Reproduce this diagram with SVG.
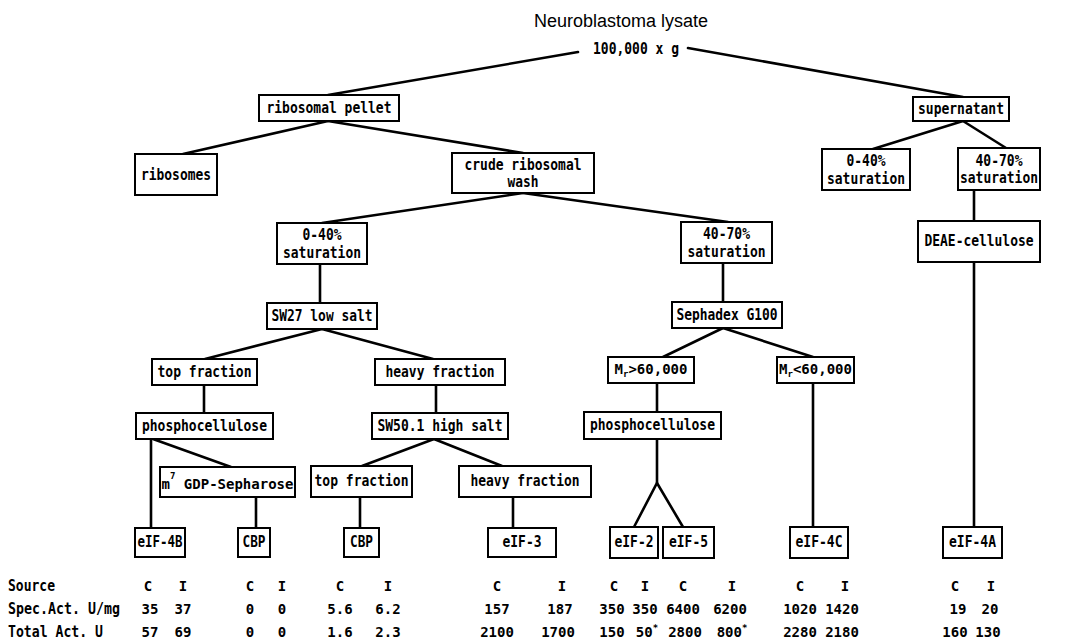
<svg xmlns="http://www.w3.org/2000/svg" width="1076" height="644" viewBox="0 0 1076 644">
<style>
.bg{fill:#fff}
.box rect{fill:#fff;stroke:#000;stroke-width:2}
.box text,.tbl text,.cfg{font-family:"DejaVu Sans Mono","Liberation Mono",monospace;font-weight:bold;font-size:15px;fill:#000}
.box text,.cfg{text-anchor:middle;dominant-baseline:central}
.box text.s{font-size:14px}
.tbl .n text{text-anchor:middle;font-size:14px}
.conn line,.conn polyline{stroke:#000;stroke-width:2.6;fill:none;stroke-linecap:round}
.title{font-family:"Liberation Sans",Arial,sans-serif;font-size:18px;fill:#000;text-anchor:middle}
.sup{font-size:9px}
</style>
<rect class="bg" x="0" y="0" width="1076" height="644"/>
<g id="connectors" class="conn">
<line x1="578" y1="52" x2="328" y2="95"/>
<line x1="688" y1="48" x2="963" y2="97"/>
<line x1="328" y1="121" x2="183" y2="154"/>
<line x1="328" y1="121" x2="523" y2="153"/>
<line x1="523" y1="193" x2="322" y2="223"/>
<line x1="523" y1="193" x2="728" y2="222"/>
<line x1="963" y1="121" x2="873" y2="149"/>
<line x1="963" y1="121" x2="1006" y2="148"/>
<line x1="974" y1="190" x2="974" y2="221"/>
<line x1="974" y1="262" x2="974" y2="527"/>
<line x1="320" y1="264" x2="320" y2="303"/>
<line x1="322" y1="329" x2="205" y2="359"/>
<line x1="322" y1="329" x2="433" y2="359"/>
<line x1="204" y1="385" x2="204" y2="413"/>
<line x1="436" y1="385" x2="436" y2="413"/>
<line x1="151" y1="439" x2="151" y2="528"/>
<line x1="153" y1="439" x2="231" y2="467"/>
<line x1="256" y1="497" x2="256" y2="528"/>
<line x1="434" y1="439" x2="362" y2="466"/>
<line x1="434" y1="439" x2="502" y2="466"/>
<line x1="360" y1="497" x2="360" y2="528"/>
<line x1="513" y1="497" x2="513" y2="528"/>
<line x1="723" y1="263" x2="723" y2="302"/>
<line x1="723" y1="328" x2="663" y2="357"/>
<line x1="723" y1="328" x2="813" y2="357"/>
<line x1="657" y1="383" x2="657" y2="412"/>
<line x1="657" y1="439" x2="657" y2="483"/>
<polyline points="634,527 657,483 683,527"/>
<line x1="813" y1="383" x2="813" y2="527"/>
</g>
<g id="lysate">
<text class="title" x="621" y="27">Neuroblastoma lysate</text>
<text class="cfg" x="636" y="49" textLength="86" lengthAdjust="spacingAndGlyphs">100,000 x g</text>
</g>
<g id="ribosomal-pellet" class="box"><rect x="259" y="95" width="140" height="26"/><text x="329" y="108" textLength="125" lengthAdjust="spacingAndGlyphs">ribosomal pellet</text></g>
<g id="ribosomes" class="box"><rect x="135" y="154" width="82" height="41"/><text x="176" y="175" textLength="70" lengthAdjust="spacingAndGlyphs">ribosomes</text></g>
<g id="crude-wash" class="box"><rect x="452" y="153" width="142" height="40"/><text x="523" y="164.5" textLength="117" lengthAdjust="spacingAndGlyphs">crude ribosomal</text><text x="523" y="182" textLength="31" lengthAdjust="spacingAndGlyphs">wash</text></g>
<g id="supernatant" class="box"><rect x="913" y="97" width="96" height="24"/><text x="961" y="109" textLength="86" lengthAdjust="spacingAndGlyphs">supernatant</text></g>
<g id="sup-0-40" class="box"><rect x="822" y="149" width="88" height="41"/><text x="866" y="161" textLength="39" lengthAdjust="spacingAndGlyphs">0-40%</text><text x="866" y="178.5" textLength="78" lengthAdjust="spacingAndGlyphs">saturation</text></g>
<g id="sup-40-70" class="box"><rect x="958" y="148" width="82" height="42"/><text x="999" y="160.5" textLength="47" lengthAdjust="spacingAndGlyphs">40-70%</text><text x="999" y="178" textLength="78" lengthAdjust="spacingAndGlyphs">saturation</text></g>
<g id="wash-0-40" class="box"><rect x="277" y="223" width="90" height="41"/><text x="322" y="235" textLength="39" lengthAdjust="spacingAndGlyphs">0-40%</text><text x="322" y="252.5" textLength="78" lengthAdjust="spacingAndGlyphs">saturation</text></g>
<g id="sw27" class="box"><rect x="267" y="303" width="110" height="26"/><text x="322" y="316" textLength="101" lengthAdjust="spacingAndGlyphs">SW27 low salt</text></g>
<g id="top-fraction-1" class="box"><rect x="152" y="359" width="105" height="26"/><text x="204.5" y="372" textLength="94" lengthAdjust="spacingAndGlyphs">top fraction</text></g>
<g id="heavy-fraction-1" class="box"><rect x="375" y="359" width="130" height="26"/><text x="440" y="372" textLength="109" lengthAdjust="spacingAndGlyphs">heavy fraction</text></g>
<g id="wash-40-70" class="box"><rect x="681" y="222" width="91" height="41"/><text x="726.5" y="234" textLength="47" lengthAdjust="spacingAndGlyphs">40-70%</text><text x="726.5" y="251.5" textLength="78" lengthAdjust="spacingAndGlyphs">saturation</text></g>
<g id="sephadex" class="box"><rect x="672" y="302" width="110" height="26"/><text x="727" y="315" textLength="101" lengthAdjust="spacingAndGlyphs">Sephadex G100</text></g>
<g id="mr-gt" class="box"><rect x="608" y="357" width="86" height="26"/><text class="s" x="651" y="369">M<tspan class="sup" dy="5">r</tspan><tspan dy="-5">&gt;60,000</tspan></text></g>
<g id="mr-lt" class="box"><rect x="777" y="357" width="77" height="26"/><text class="s" x="815.5" y="369">M<tspan class="sup" dy="5">r</tspan><tspan dy="-5">&lt;60,000</tspan></text></g>
<g id="deae" class="box"><rect x="918" y="221" width="122" height="41"/><text x="979" y="241" textLength="109" lengthAdjust="spacingAndGlyphs">DEAE-cellulose</text></g>
<g id="phospho-1" class="box"><rect x="136" y="413" width="137" height="26"/><text x="204.5" y="426" textLength="125" lengthAdjust="spacingAndGlyphs">phosphocellulose</text></g>
<g id="sw50" class="box"><rect x="372" y="413" width="136" height="26"/><text x="440" y="426" textLength="125" lengthAdjust="spacingAndGlyphs">SW50.1 high salt</text></g>
<g id="m7gdp" class="box"><rect x="160" y="467" width="135" height="30"/><text class="s" x="227.5" y="484">m<tspan class="sup" dy="-8">7</tspan><tspan dy="8"> GDP-Sepharose</tspan></text></g>
<g id="top-fraction-2" class="box"><rect x="311" y="466" width="101" height="31"/><text x="361.5" y="481" textLength="94" lengthAdjust="spacingAndGlyphs">top fraction</text></g>
<g id="heavy-fraction-2" class="box"><rect x="459" y="466" width="132" height="31"/><text x="525" y="481" textLength="109" lengthAdjust="spacingAndGlyphs">heavy fraction</text></g>
<g id="eif4b" class="box"><rect x="135" y="528" width="50" height="29"/><text x="160" y="542" textLength="45" lengthAdjust="spacingAndGlyphs">eIF-4B</text></g>
<g id="cbp-1" class="box"><rect x="238" y="528" width="32" height="29"/><text x="254" y="542" textLength="23" lengthAdjust="spacingAndGlyphs">CBP</text></g>
<g id="cbp-2" class="box"><rect x="344" y="528" width="35" height="29"/><text x="361.5" y="542" textLength="23" lengthAdjust="spacingAndGlyphs">CBP</text></g>
<g id="eif3" class="box"><rect x="488" y="528" width="68" height="29"/><text x="522" y="542" textLength="39" lengthAdjust="spacingAndGlyphs">eIF-3</text></g>
<g id="phospho-2" class="box"><rect x="584" y="412" width="137" height="27"/><text x="652.5" y="425" textLength="125" lengthAdjust="spacingAndGlyphs">phosphocellulose</text></g>
<g id="eif2" class="box"><rect x="610" y="527" width="48" height="31"/><text x="634" y="542" textLength="39" lengthAdjust="spacingAndGlyphs">eIF-2</text></g>
<g id="eif5" class="box"><rect x="663" y="527" width="51" height="31"/><text x="688.5" y="542" textLength="39" lengthAdjust="spacingAndGlyphs">eIF-5</text></g>
<g id="eif4c" class="box"><rect x="790" y="527" width="58" height="31"/><text x="819" y="542" textLength="47" lengthAdjust="spacingAndGlyphs">eIF-4C</text></g>
<g id="eif4a" class="box"><rect x="943" y="527" width="59" height="31"/><text x="972.5" y="542" textLength="47" lengthAdjust="spacingAndGlyphs">eIF-4A</text></g>
<g id="table" class="tbl">
<text x="8" y="591" textLength="47" lengthAdjust="spacingAndGlyphs">Source</text>
<text x="8" y="614" textLength="112" lengthAdjust="spacingAndGlyphs">Spec.Act. U/mg</text>
<text x="8" y="637" textLength="95" lengthAdjust="spacingAndGlyphs">Total Act. U</text>
<g class="n">
<text x="148" y="591">C</text><text x="183" y="591">I</text>
<text x="150" y="614">35</text><text x="183" y="614">37</text>
<text x="150" y="637">57</text><text x="183" y="637">69</text>
<text x="250" y="591">C</text><text x="282" y="591">I</text>
<text x="250" y="614">0</text><text x="282" y="614">0</text>
<text x="250" y="637">0</text><text x="282" y="637">0</text>
<text x="340" y="591">C</text><text x="388" y="591">I</text>
<text x="340" y="614">5.6</text><text x="388" y="614">6.2</text>
<text x="340" y="637">1.6</text><text x="388" y="637">2.3</text>
<text x="497" y="591">C</text><text x="562" y="591">I</text>
<text x="497" y="614">157</text><text x="560" y="614">187</text>
<text x="497" y="637">2100</text><text x="558" y="637">1700</text>
<text x="614" y="591">C</text><text x="645" y="591">I</text>
<text x="612" y="614">350</text><text x="645" y="614">350</text>
<text x="612" y="637">150</text><text x="647" y="637">50<tspan class="sup" dy="-6">*</tspan></text>
<text x="683" y="591">C</text><text x="732" y="591">I</text>
<text x="683" y="614">6400</text><text x="730" y="614">6200</text>
<text x="685" y="637">2800</text><text x="732" y="637">800<tspan class="sup" dy="-6">*</tspan></text>
<text x="800" y="591">C</text><text x="845" y="591">I</text>
<text x="800" y="614">1020</text><text x="842" y="614">1420</text>
<text x="800" y="637">2280</text><text x="842" y="637">2180</text>
<text x="955" y="591">C</text><text x="991" y="591">I</text>
<text x="958" y="614">19</text><text x="990" y="614">20</text>
<text x="955" y="637">160</text><text x="988" y="637">130</text>
</g>
</g>
</svg>
